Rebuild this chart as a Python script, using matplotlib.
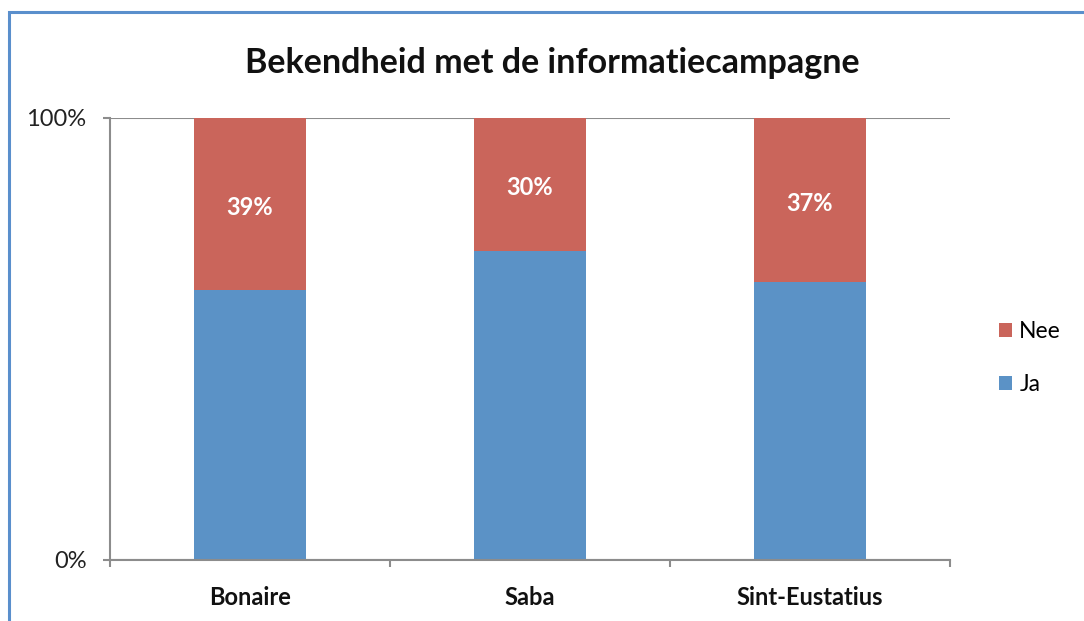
import numpy as np
import matplotlib.pyplot as plt
from matplotlib.patches import Rectangle

plt.rcParams["font.family"] = ["Lato", "DejaVu Sans"]

islands = ["Bonaire", "Saba", "Sint-Eustatius"]
ja = [61, 70, 63]
nee = [39, 30, 37]
series_names = ["Ja", "Nee"]

ja_color = "#5B92C6"
nee_color = "#CA655B"
axis_gray = "#8C8C8C"


def main():
    fig = plt.figure(figsize=(10.84, 6.21), dpi=100)
    ax = fig.add_axes([110 / 1084, 1 - 560 / 621, 840 / 1084, 442 / 621])

    x = np.arange(len(islands))
    ax.bar(x, ja, width=0.4, color=ja_color, label=series_names[0], zorder=2)
    ax.bar(x, nee, width=0.4, bottom=ja, color=nee_color, label=series_names[1], zorder=2)

    for xi, base, val in zip(x, ja, nee):
        ax.text(xi, base + val / 2 - 0.8, f"{val}%", ha="center", va="center",
                color="white", fontsize=17, fontweight="bold", zorder=3)

    ax.set_xlim(-0.5, len(islands) - 0.5)
    ax.set_ylim(0, 100)

    # y axis: only 0% and 100%
    ax.set_yticks([0, 100])
    ax.set_yticklabels(["0%", "100%"], fontsize=17, color="#222222")
    ax.yaxis.grid(True, color=axis_gray, linewidth=1.5, zorder=1)
    ax.tick_params(axis="y", length=5, width=1.5, color=axis_gray, pad=12)

    # x axis: labels at centers, tick marks between categories
    ax.set_xticks(x)
    ax.set_xticklabels(islands, fontsize=17, fontweight="bold", color="#111111")
    ax.tick_params(axis="x", length=0, pad=19)
    ax.set_xticks(np.arange(-0.5, len(islands), 1.0), minor=True)
    ax.tick_params(axis="x", which="minor", length=5, width=1.5, color=axis_gray)

    for side in ["top", "right"]:
        ax.spines[side].set_visible(False)
    for side in ["left", "bottom"]:
        ax.spines[side].set_color(axis_gray)
        ax.spines[side].set_linewidth(1.5)

    fig.text(552 / 1084, 1 - 63 / 621, "Bekendheid met de informatiecampagne",
             ha="center", va="center", fontsize=24.5, fontweight="bold", color="#111111")

    handles, labels = ax.get_legend_handles_labels()
    fig.legend(handles[::-1], labels[::-1], loc="center left",
               bbox_to_anchor=(978 / 1084, 1 - 358 / 621), frameon=False,
               fontsize=16.5, handlelength=0.6, handleheight=0.6,
               handletextpad=0.3, labelspacing=1.4)

    # chart area border
    fig.add_artist(Rectangle((9 / 1084, -0.1), 1.2, 609 / 621 + 0.1,
                             transform=fig.transFigure, fill=False,
                             edgecolor="#5A8FCC", linewidth=2.2))

    fig.savefig("out.png", dpi=100, facecolor="white")


if __name__ == "__main__":
    main()
